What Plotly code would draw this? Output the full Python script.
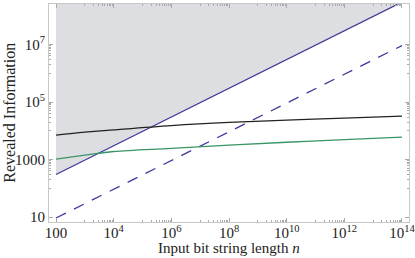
import plotly.graph_objects as go

# ---- data ----
n_line = [1e2, 1e14]
bound_solid = [300, 3.0e8]      # solid blue (upper boundary of shaded region)
bound_dashed = [9.2, 9.2e6]     # dashed blue

n_curve = [1e2, 1e3, 1e4, 1e6, 1e8, 1e10, 1e12, 1e14]
black_vals = [7100, 8900, 10700, 15100, 19500, 23400, 27500, 32400]
green_vals = [1040, 1410, 1900, 2450, 3160, 3980, 4900, 6030]

x_tickvals = [1e2, 1e4, 1e6, 1e8, 1e10, 1e12, 1e14]
x_ticktext = ["100", "10<sup>4</sup>", "10<sup>6</sup>", "10<sup>8</sup>",
              "10<sup>10</sup>", "10<sup>12</sup>", "10<sup>14</sup>"]
y_tickvals = [10, 1000, 1e5, 1e7]
y_ticktext = ["10", "1000", "10<sup>5</sup>", "10<sup>7</sup>"]

x_range_log = [1.757, 14.243]
y_range_log = [0.826, 8.41]

BLUE = "#3b3b9c"
BLACK = "#222222"
GREEN = "#3a9566"
FILL = "#dddee1"
SERIF = "Liberation Serif, Times New Roman, serif"

top_val = 10 ** y_range_log[1]

fig = go.Figure()
fig.add_trace(go.Scatter(x=n_line, y=[top_val, top_val], mode="lines",
                         line=dict(width=0, color=FILL), hoverinfo="skip", showlegend=False))
fig.add_trace(go.Scatter(x=n_line, y=bound_solid, mode="lines", fill="tonexty",
                         fillcolor=FILL, line=dict(color=BLUE, width=1.3), showlegend=False))
fig.add_trace(go.Scatter(x=n_line, y=bound_dashed, mode="lines",
                         line=dict(color=BLUE, width=1.3, dash="11px,9px"), showlegend=False))
fig.add_trace(go.Scatter(x=n_curve, y=black_vals, mode="lines", line_shape="spline",
                         line=dict(color=BLACK, width=1.3), showlegend=False))
fig.add_trace(go.Scatter(x=n_curve, y=green_vals, mode="lines", line_shape="spline",
                         line=dict(color=GREEN, width=1.3), showlegend=False))

# minor ticks: cluster in the decade just below each labelled decade
x_minor = [m * 10 ** (e - 1) for e in range(4, 15, 2) for m in range(1, 10)]
y_minor = [m * 10 ** (e - 1) for e in range(3, 9, 2) for m in range(1, 10)]

tickfont = dict(family=SERIF, size=15, color="#222")
axis_common = dict(type="log", showgrid=False, zeroline=False, showline=True,
                   linecolor="#c8c8c8", linewidth=1, mirror="allticks",
                   ticks="inside", ticklen=4, tickcolor="#aaaaaa", tickwidth=1,
                   tickfont=tickfont, tickmode="array", automargin=False,
                   ticklabeloverflow="allow")

fig.update_xaxes(**axis_common, range=x_range_log, tickvals=x_tickvals, ticktext=x_ticktext,
                 ticklabelstandoff=-3,
                 minor=dict(tickmode="array", tickvals=x_minor, ticks="inside",
                            ticklen=2, tickcolor="#aaaaaa", tickwidth=1))
fig.update_yaxes(**axis_common, range=y_range_log, tickvals=y_tickvals, ticktext=y_ticktext,
                 minor=dict(tickmode="array", tickvals=y_minor, ticks="inside",
                            ticklen=2, tickcolor="#aaaaaa", tickwidth=1))

fig.update_layout(
    width=415, height=258,
    margin=dict(l=49, r=6, t=4, b=36, autoexpand=False),
    plot_bgcolor="white", paper_bgcolor="white",
    annotations=[
        dict(text="Input bit string length <i>n</i>", xref="paper", yref="paper",
             x=0.5, y=-0.075, xanchor="center", yanchor="top", showarrow=False,
             font=dict(family=SERIF, size=15, color="#222")),
        dict(text="Revealed Information", xref="paper", yref="paper",
             x=-0.112, y=0.5, xanchor="center", yanchor="middle", textangle=-90,
             showarrow=False,
             font=dict(family=SERIF, size=16, color="#222")),
    ],
)

fig.write_html("out.html", config={"displayModeBar": False},
               post_script="document.body.style.margin='0';")
